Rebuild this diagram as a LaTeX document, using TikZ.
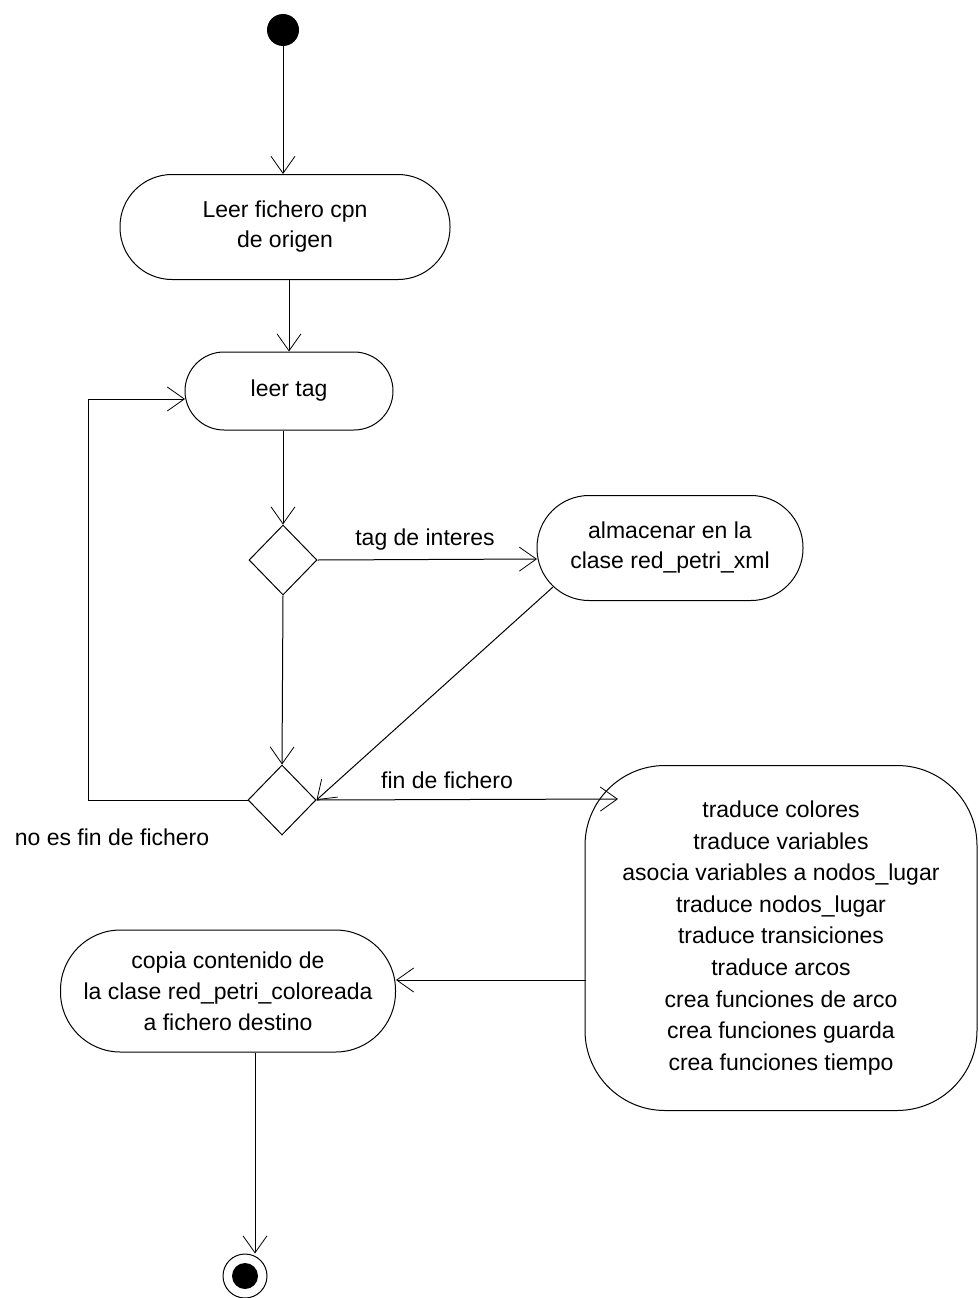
\documentclass[tikz,border=0pt]{standalone}
\usepackage{fontspec}
\setmainfont{Liberation Sans}
\usetikzlibrary{arrows.meta,shapes.geometric,calc}
\begin{document}
\begin{tikzpicture}[x=1pt,y=-1pt,
  every node/.style={font=\fontsize{23}{30}\selectfont},
  act/.style={draw,line width=1pt,fill=white,align=center,inner sep=0pt},
  dec/.style={draw,line width=1pt,fill=white,diamond,minimum width=68pt,minimum height=70pt,inner sep=0pt},
  flow/.style={line width=1pt,-{Straight Barb[length=17pt,width=24pt,line width=0.8pt]}},
  lbl/.style={inner sep=0pt}]
\useasboundingbox (0,0) rectangle (979,1298);
% nodes
\node[circle,fill=black,minimum size=32pt,inner sep=0pt] (start) at (283,30) {};
\node[act,rounded corners=52pt,minimum width=330pt,minimum height=105pt] (leer) at (285,227) {Leer fichero cpn\\de origen};
\node[act,rounded corners=39pt,minimum width=208pt,minimum height=78pt] (tag) at (289,391) {leer tag};
\node[dec] (d1) at (283,560) {};
\node[act,rounded corners=52pt,minimum width=266pt,minimum height=105pt] (alm) at (670,548) {almacenar en la\\clase red\_petri\_xml};
\node[dec] (d2) at (282,800) {};
\node[act,rounded corners=80pt,minimum width=392pt,minimum height=345pt,font=\fontsize{23}{31.6}\selectfont] (big) at (781,938) {traduce colores\\traduce variables\\asocia variables a nodos\_lugar\\traduce nodos\_lugar\\traduce transiciones\\traduce arcos\\crea funciones de arco\\crea funciones guarda\\crea funciones tiempo};
\node[act,rounded corners=60pt,minimum width=335pt,minimum height=122pt,font=\fontsize{23}{31}\selectfont] (copia) at (228,991) {copia contenido de\\la clase red\_petri\_coloreada\\a fichero destino};
\node[circle,draw,line width=1pt,fill=white,minimum size=44pt,inner sep=0pt] (endo) at (245,1276) {};
\node[circle,fill=black,minimum size=26pt,inner sep=0pt] (endi) at (endo) {};
% coordinates
\coordinate (tagin) at (185,399);
\coordinate (almin) at (537,559);
\coordinate (almout) at (553,587);
\coordinate (bigin) at (618,799);
\coordinate (bigout) at (586,980);
\coordinate (loopc) at (88,800);
% connectors
\draw[flow] (start) -- (leer.north -| start);
\draw[flow] (leer.south -| tag) -- (tag.north);
\draw[flow] (tag.south -| d1) -- (d1.north);
\draw[flow] (d1.east) -- (almin);
\draw[flow] (almout) -- (d2.east);
\draw[flow] (d1.south) -- (d2.north);
\draw[flow] (d2.east) -- (bigin);
\draw[flow] (d2.west) -- (loopc) |- (tagin);
\draw[flow] (bigout) -- (copia.east |- bigout);
\draw[flow] (copia.south -| 255,0) -- (endo.north -| 255,0);
% labels
\node[lbl] (l1) at (425,540) {tag de interes};
\node[lbl] (l2) at (447,780) {fin de fichero};
\node[lbl] (l3) at (112,837) {no es fin de fichero};
\end{tikzpicture}
\end{document}
